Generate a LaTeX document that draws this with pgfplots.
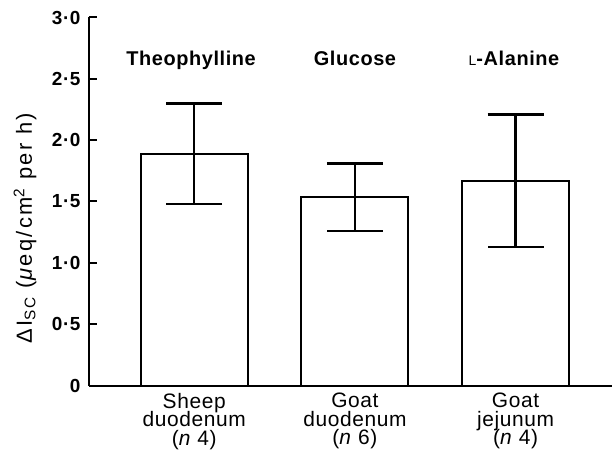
\documentclass[border=0pt]{standalone}
\usepackage{fontspec}
\setmainfont{Liberation Sans}[LetterSpace=3]
\newfontfamily\widefont{Liberation Sans}[LetterSpace=11]
\usepackage{pgfplots}
\pgfplotsset{compat=1.18}
\usetikzlibrary{calc}
\pgfplotstableread{
x y ep em
0 1.89 0.41 0.41
1 1.54 0.27 0.28
2 1.67 0.54 0.54
}\datatable
\newcommand\tightlines{\fontsize{21}{18.5}\selectfont\lineskiplimit=-100pt\relax}
\begin{document}
\begin{tikzpicture}
\begin{axis}[
  name=ax,
  scale only axis, width=523bp, height=368bp,
  xmin=-0.655, xmax=2.6, ymin=0, ymax=3,
  axis lines=left,
  axis line style={line width=2bp, -},
  ytick={0,0.5,1,1.5,2,2.5,3},
  yticklabels={0,0·5,1·0,1·5,2·0,2·5,3·0},
  yticklabel style={font=\bfseries\fontsize{19}{19}\selectfont},
  yticklabel shift=5bp,
  tick align=inside, major tick length=8bp,
  y tick style={line width=2bp, black},
  xtick={0,1,2},
  xticklabels={Sheep\\duodenum\\(\textit{n} 4), Goat\\duodenum\\(\textit{n} 6), Goat\\jejunum\\(\textit{n} 4)},
  xticklabel style={align=center, font=\tightlines, yshift=-4bp},
  x tick style={draw=none},
  clip=false,
]
\addplot[ybar, bar width=107bp, fill=white, draw=black, line width=2bp,
  error bars/.cd, y dir=both, y explicit,
  error bar style={line width=2.5bp},
  error mark options={line width=2.5bp, mark size=28bp, rotate=90}]
  table[x=x, y=y, y error plus=ep, y error minus=em] {\datatable};
\node[anchor=base, font=\bfseries\fontsize{20}{20}\selectfont] at (axis cs:-0.02,2.61) {Theophylline};
\node[anchor=base, font=\bfseries\fontsize{20}{20}\selectfont] at (axis cs:1,2.61) {Glucose};
\node[anchor=base, font=\bfseries\fontsize{20}{20}\selectfont] at (axis cs:1.99,2.61) {{\mdseries\fontsize{14}{14}\selectfont L}-Alanine};
\end{axis}
\node[rotate=90, font=\widefont\fontsize{22}{22}\selectfont] at ($(ax.south west)+(-64bp,157.5bp)$) {ΔI\textsubscript{SC} (\textit{μ}eq/cm\textsuperscript{2} per h)};
\pgfresetboundingbox
\useasboundingbox ($(ax.south west)+(-89bp,-78.5bp)$) rectangle ($(ax.south west)+(527bp,385.5bp)$);
\end{tikzpicture}
\end{document}
